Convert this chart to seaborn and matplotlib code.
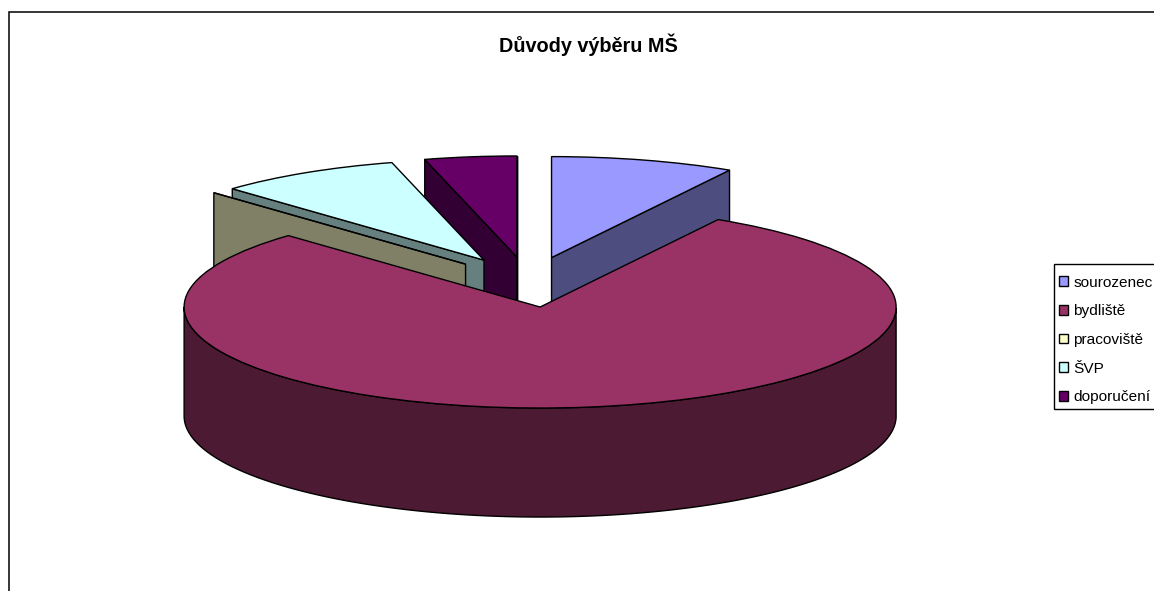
import numpy as np
import matplotlib
matplotlib.use("Agg")
import matplotlib.pyplot as plt
from matplotlib.patches import Rectangle
import seaborn as sns

TITLE = "Důvody výběru MŠ"
categories = ["sourozenec", "bydliště", "pracoviště", "ŠVP", "doporučení"]
values = [2, 19, 0, 2, 1]
explode = [0.25] * 5
colors = ["#9999FF", "#993366", "#FFFFCC", "#CCFFFF", "#660066"]
paint_order = [4, 3, 2, 0, 1]  # back slices first

W, H = 1154, 591
CX, CY, RX, RY, DEPTH = 528.5, 282.0, 356.0, 101.0, 109.0

sns.set_theme(style="white")
plt.rcParams["font.family"] = ["Liberation Sans", "DejaVu Sans"]
palette = sns.color_palette(colors)

fig = plt.figure(figsize=(W / 100, H / 100), dpi=100, facecolor="white")
ax = fig.add_axes([0, 0, 1, 1])
LW = 1.0
wedges, _ = ax.pie(values, explode=explode, colors=palette, startangle=90,
                   counterclock=False, radius=1.0,
                   wedgeprops=dict(edgecolor="black", linewidth=LW))
ax.set_aspect("auto")
ax.set_xlim(-CX / RX, (W - CX) / RX)
ax.set_ylim((CY - H) / RY, CY / RY)
ax.set_axis_off()

d = DEPTH / RY


def wall(xs, ys, color, z):
    xs = np.asarray(xs)
    ys = np.asarray(ys)
    px = np.r_[xs, xs[::-1]]
    py = np.r_[ys, ys[::-1] - d]
    ax.fill(px, py, facecolor=color, edgecolor="black", linewidth=LW,
            zorder=z, joinstyle="round")


for rank, i in enumerate(paint_order):
    w = wedges[i]
    base = tuple(c * 0.5 for c in palette[i])
    z = 2 + 2 * rank
    cx, cy = w.center
    t1, t2 = np.radians(w.theta1), np.radians(w.theta2)
    if np.sin(t1 - np.pi / 2) < -1e-9:
        wall([cx, cx + np.cos(t1)], [cy, cy + np.sin(t1)], base, z)
    if np.sin(t2 + np.pi / 2) < -1e-9:
        wall([cx, cx + np.cos(t2)], [cy, cy + np.sin(t2)], base, z)
    th = np.linspace(t1, t2, 400)
    th = th[np.sin(th) < 0]
    if th.size > 1:
        wall(cx + np.cos(th), cy + np.sin(th), base, z)
    w.set_zorder(z + 1)

fig.text(588 / W, 1 - 52.5 / H, TITLE, ha="center", va="baseline",
         fontsize=14.3, fontweight="bold", color="black")

# chart-area border: runs off the right and bottom of the picture
fig.add_artist(Rectangle((8.5 / W, -0.1), 1.2, 0.1 + 1 - 12.5 / H,
                         transform=fig.transFigure, fill=False,
                         edgecolor="black", linewidth=1.1))

# legend frame, also running off the right edge
fig.add_artist(Rectangle((1053.5 / W, 1 - 408.5 / H), 0.2, 144.5 / H,
                         transform=fig.transFigure, fill=False,
                         edgecolor="black", linewidth=1.0))

leg = ax.legend(wedges, categories, loc="upper left",
                bbox_to_anchor=(1047.5 / W, 1 - 264 / H),
                bbox_transform=fig.transFigure, fontsize=11.1,
                frameon=False, handlelength=0.6, handleheight=0.6,
                handletextpad=0.32, labelspacing=0.95, borderpad=0.76,
                borderaxespad=0)
leg.set_zorder(50)
for t in leg.get_texts():
    t.set_color("black")

fig.savefig("out.png", dpi=100, facecolor="white")
